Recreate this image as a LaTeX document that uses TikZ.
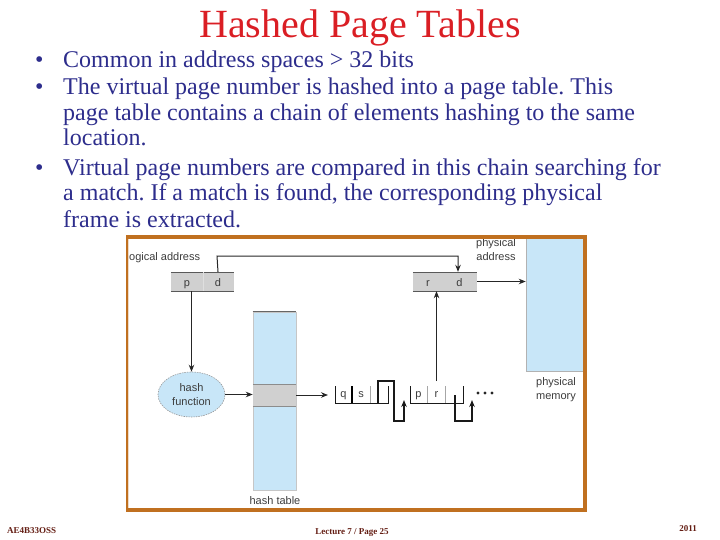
\documentclass[tikz,border=0pt]{standalone}
\usepackage{fontspec}
\setmainfont{Liberation Serif}
\newfontfamily\diagfont{Liberation Sans}
\usetikzlibrary{arrows.meta,shapes.geometric}
\definecolor{titlered}{RGB}{218,30,36}
\definecolor{textblue}{RGB}{45,45,140}
\definecolor{framebrown}{RGB}{192,112,32}
\definecolor{lightblue}{RGB}{200,230,248}
\definecolor{boxgray}{RGB}{208,208,208}
\definecolor{labelgray}{RGB}{60,60,60}
\definecolor{footbrown}{RGB}{100,30,20}
\frenchspacing
\begin{document}
\begin{tikzpicture}[x=1pt,y=-1pt,
  bodytext/.style={font=\fontsize{24}{24}\selectfont, text=textblue, anchor=base west, inner sep=0},
  lbl/.style={font=\diagfont\fontsize{11}{14}\selectfont, text=labelgray, inner sep=0, align=center},
  fld/.style={lbl, anchor=base},
  arr/.style={-{Stealth[length=7pt,width=5.5pt]}, line width=1pt, draw=black!85},
  chainline/.style={line width=1pt, draw=black!90},
  ptr/.style={-{Stealth[length=7pt,width=5.5pt]}, line width=1.3pt, draw=black!90},
  addrbox/.style={fill=boxgray, draw=none, inner sep=0},
  foot/.style={font=\bfseries\fontsize{9}{9}\selectfont, text=footbrown, inner sep=0, anchor=base}]
\useasboundingbox (0,0) rectangle (720,540);
% title and text
\node[font=\fontsize{40}{40}\selectfont, text=titlered, anchor=base, inner sep=0] (title) at (360,38) {Hashed Page Tables};
\node[bodytext] (u1) at (35,68) {•};
\node[bodytext] (b1) at (63,68) {Common in address spaces > 32 bits};
\node[bodytext] (u2) at (35,95) {•};
\node[bodytext] (b2) at (63,95) {The virtual page number is hashed into a page table. This};
\node[bodytext] (b3) at (63,121) {page table contains a chain of elements hashing to the same};
\node[bodytext] (b4) at (63,146) {location.};
\node[bodytext] (u3) at (35,176) {•};
\node[bodytext] (b5) at (63,176) {Virtual page numbers are compared in this chain searching for};
\node[bodytext] (b6) at (63,201) {a match. If a match is found, the corresponding physical};
\node[bodytext] (b7) at (63,227) {frame is extracted.};
% diagram
\node[lbl, anchor=west] (lalabel) at (129,258) {ogical address};
\node[addrbox, minimum width=63pt, minimum height=19pt] (la) at (202.5,281.5) {};
\draw[black!65, line width=0.6pt] (la.north west) -- (la.north east) (la.south west) -- (la.south east);
\draw[white!75!gray, line width=0.6pt] (203,272) -- (203,291);
\node[fld] (pfield) at (187,286) {p};
\node[fld] (dfield) at (218,286) {d};
\node[addrbox, minimum width=64pt, minimum height=19pt] (rd) at (445,281.5) {};
\draw[black!65, line width=0.6pt] (rd.north west) -- (rd.north east) (rd.south west) -- (rd.south east);
\node[fld] (rfield) at (428,286) {r};
\node[fld] (dfield2) at (459.5,286) {d};
\node[fill=lightblue, draw=gray!60, line width=0.6pt, minimum width=57pt, minimum height=134pt, inner sep=0] (pm) at (554.5,304) {};
\node[lbl] (palabel) at (496,250) {physical\\address};
\node[lbl] (pmlabel) at (556,390) {physical\\memory};
\node[ellipse, draw=gray!80, dash pattern=on 1.5pt off 1pt, line width=0.6pt, fill=lightblue, minimum width=67pt, minimum height=45pt, inner sep=0] (hash) at (191.5,394.5) {};
\node[lbl] (hashtext) at (hash.center) {hash\\function};
\node[fill=lightblue, draw=gray!45, line width=0.6pt, minimum width=43pt, minimum height=178pt, inner sep=0] (ht) at (274.5,401) {};
\draw[black!60, line width=0.6pt] (ht.north west) -- (ht.north east);
\node[fill=boxgray, minimum width=43pt, minimum height=22pt, inner sep=0] (band) at (274.5,395) {};
\draw[black!45, line width=0.6pt] (band.north west) -- (band.north east) (band.south west) -- (band.south east);
\node[lbl] (htlabel) at (275,501) {hash table};
% chain element 1
\draw[chainline] (335,386) -- (335,403) -- (388,403) -- (388,386);
\draw[line width=1.6pt, black] (352,386) -- (352,403);
\draw[gray!70, line width=0.8pt] (370,386) -- (370,403);
\node[fld] (qfield) at (343.5,397) {q};
\node[fld] (sfield) at (361,397) {s};
\coordinate (chainin) at (328,395);
\coordinate (p1a) at (378,403);
\coordinate (p1b) at (378,381);
\coordinate (p1c) at (394,381);
\coordinate (p1d) at (394,421);
\coordinate (p1e) at (404,421);
\coordinate (p1f) at (404,400);
% chain element 2
\draw[chainline] (410,386) -- (410,403) -- (463,403) -- (463,386);
\draw[gray!70, line width=0.8pt] (427,386) -- (427,403);
\draw[gray!70, line width=0.8pt] (445,386) -- (445,403);
\node[fld] (pfield2) at (418.5,397) {p};
\node[fld] (rfield2) at (436.5,397) {r};
\coordinate (p2a) at (455,395);
\coordinate (p2b) at (455,421);
\coordinate (p2c) at (472,421);
\coordinate (p2d) at (472,400);
\coordinate (rup) at (436.5,381);
\foreach \xx in {478,485,492} \fill[black!85] (\xx,393) circle (1.6pt);
% connectors
\coordinate (ltop) at (217,256);
\coordinate (rtop) at (458,256);
\draw[arr] (dfield |- la.north) -- (ltop) -- (rtop) -- (rtop |- rd.north);
\draw[arr] (hash.north |- la.south) -- (hash.north);
\draw[arr] (hash.east) -- (hash.east -| ht.west);
\draw[arr] (band.east) -- (chainin);
\draw[ptr] (p1a) -- (p1b) -- (p1c) -- (p1d) -- (p1e) -- (p1f);
\draw[ptr] (p2a) -- (p2b) -- (p2c) -- (p2d);
\draw[arr] (rup) -- (rup |- rd.south);
\draw[arr] (rd.east) -- (rd.east -| pm.west);
% frame
\draw[framebrown, line width=4pt] (126,237) -- (585,237) -- (585,510) -- (126,510);
\draw[framebrown, line width=1.5pt] (127.2,235) -- (127.2,512);
\draw[framebrown!25, line width=0.6pt] (128.6,239) -- (128.6,508);
% footer
\node[foot, anchor=base west] (f1) at (7,533) {AE4B33OSS};
\node[foot] (f2) at (352,534) {Lecture 7 / Page 25};
\node[foot, anchor=base east] (f3) at (697,531) {2011};
\end{tikzpicture}
\end{document}
